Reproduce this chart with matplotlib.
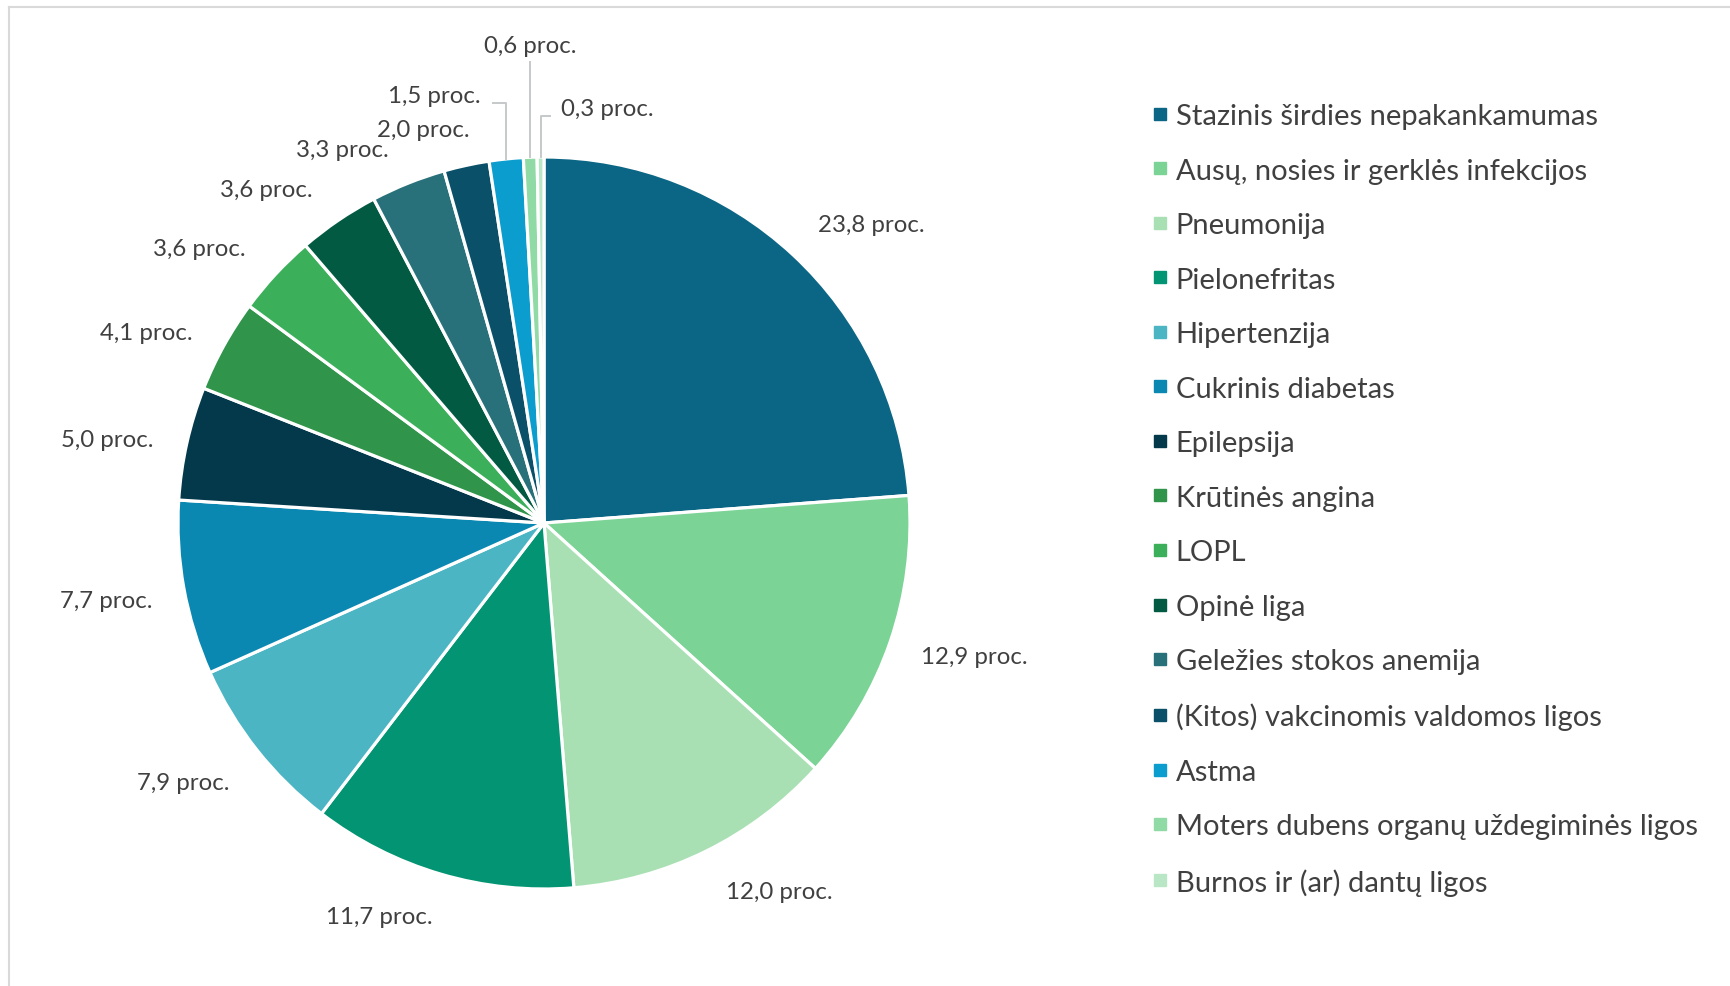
import numpy as np
import matplotlib
matplotlib.use('Agg')
import matplotlib.pyplot as plt
from matplotlib.lines import Line2D

plt.rcParams['font.family'] = ['Lato', 'DejaVu Sans']

# data
diseases = ['Stazinis širdies nepakankamumas', 'Ausų, nosies ir gerklės infekcijos',
            'Pneumonija', 'Pielonefritas', 'Hipertenzija', 'Cukrinis diabetas',
            'Epilepsija', 'Krūtinės angina', 'LOPL', 'Opinė liga',
            'Geležies stokos anemija', '(Kitos) vakcinomis valdomos ligos', 'Astma',
            'Moters dubens organų uždegiminės ligos', 'Burnos ir (ar) dantų ligos']
shares = [23.8, 12.9, 12.0, 11.7, 7.9, 7.7, 5.0, 4.1, 3.6, 3.6, 3.3, 2.0, 1.5, 0.6, 0.3]
colors = ['#0b6584', '#7bd396', '#a8e0b4', '#039573', '#4bb5c4', '#0b88b1',
          '#04394c', '#30944b', '#3caf5b', '#035a42', '#29717a', '#0a5069',
          '#0b9dcd', '#8fdaa5', '#b9e7c6']

# label placement: angular nudge (deg) and distance (in pie radii) from wedge middle
lab_shift = [-4.8, 1.6, 6.2, -6.4, -2.6, -0.2, 1.8, 3.4, 4.3, 5.6, 6.6, 4.8, 8.5, -0.5, -9.2]
lab_dist = [1.21, 1.23, 1.195, 1.165, 1.215, 1.215, 1.215, 1.205, 1.205, 1.185, 1.16, 1.125, 1.205, 1.305, 1.145]

txt_col = '#404040'
W, H = 1731, 987
R = 366.0  # pie radius in px
cx, cy = 544, 524

fig = plt.figure(figsize=(W / 100, H / 100), dpi=100)
ax = fig.add_axes([0, 0, 1, 1])

wedges, _ = ax.pie(shares, colors=colors, startangle=90, counterclock=False, radius=1,
                   wedgeprops=dict(edgecolor='white', linewidth=2.3))
ax.set_xlim(-cx / R, (W - cx) / R)
ax.set_ylim(-(H - cy) / R, cy / R)
ax.set_aspect('equal')
ax.axis('off')

# data labels
for i, (w, v) in enumerate(zip(wedges, shares)):
    mid = (w.theta1 + w.theta2) / 2
    a = np.deg2rad(mid + lab_shift[i])
    lx, ly = lab_dist[i] * np.cos(a), lab_dist[i] * np.sin(a)
    txt = ('%.1f proc.' % v).replace('.', ',', 1)
    ax.text(lx, ly, txt, ha='center', va='center', fontsize=17.3, color=txt_col)
    if i >= 12:
        m = np.deg2rad(mid)
        x0, y0 = np.cos(m), np.sin(m)
        if i == 12:
            ey = ly - 0.02
            ax.plot([x0, x0, lx + 0.16], [y0, ey, ey], color='#c6c9ca', lw=1.4)
        elif i == 13:
            ax.plot([x0, x0], [y0, ly - 0.045], color='#c6c9ca', lw=1.4)
        else:
            ey = ly - 0.02
            ax.plot([x0, x0, lx - 0.155], [y0, ey, ey], color='#c6c9ca', lw=1.4)

# legend
handles = [Line2D([], [], marker='s', ls='', markersize=8.5, markerfacecolor=c,
                  markeredgecolor=c) for c in colors]
fig.legend(handles, diseases, loc='upper left', bbox_to_anchor=(1151 / W, 1 - 104 / H),
           frameon=False, fontsize=21, labelcolor=txt_col, handlelength=0.6,
           handletextpad=0.25, labelspacing=0.978, borderpad=0, borderaxespad=0)

# outer frame (left and top edges visible)
fig.add_artist(Line2D([9 / W, 9 / W], [0, 1 - 8 / H], color='#d9d9d9', lw=1.5,
                      transform=fig.transFigure))
fig.add_artist(Line2D([9 / W, 1], [1 - 8 / H, 1 - 8 / H], color='#d9d9d9', lw=1.5,
                      transform=fig.transFigure))

fig.savefig('out.png', dpi=100, facecolor='white')
